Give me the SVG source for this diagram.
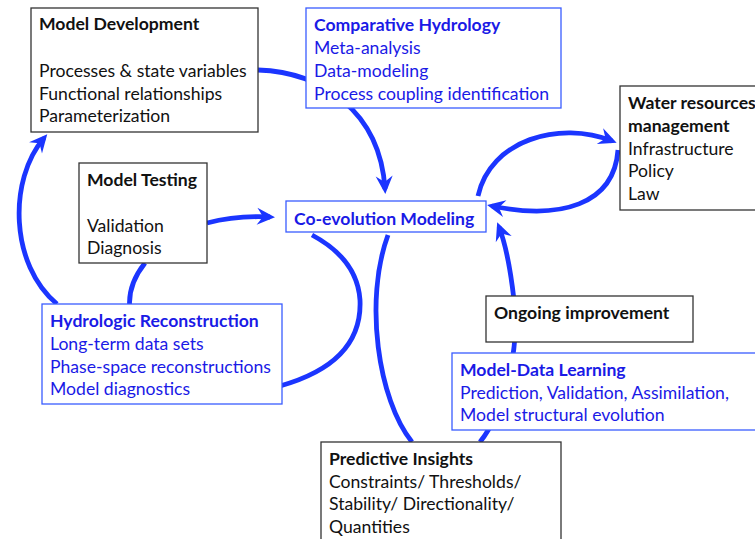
<svg xmlns="http://www.w3.org/2000/svg" width="755" height="539" viewBox="0 0 755 539">
<style>
text{font-family:Lato,"Liberation Sans",sans-serif;font-size:17.6px;fill:#111}
.b{font-weight:bold}
.blue{fill:#1a1ae6}
.kb{fill:#fff;stroke:#333;stroke-width:1.3}
.bb{fill:#fff;stroke:#3a5cff;stroke-width:1.3}
.c{fill:none;stroke:#1b35ff;stroke-width:4.8;stroke-linecap:butt}
</style>
<defs>
<marker id="ah" markerUnits="userSpaceOnUse" viewBox="-14 -9 19 18" refX="0" refY="0" markerWidth="19" markerHeight="18" orient="auto">
<path d="M5,0 L-13,-8.5 L-7,0 L-13,8.5 Z" fill="#1b35ff"/>
</marker>
</defs>
<rect width="755" height="539" fill="#fff"/>
<g id="connectors">
<path class="c" d="M258,70 C320,72 380,110 385,189" marker-end="url(#ah)"/>
<path class="c" d="M207,223 C230,217 250,216 270,217" marker-end="url(#ah)"/>
<path class="c" d="M57,304 C10,265 8,180 44,138" marker-end="url(#ah)"/>
<path class="c" d="M145,263 C133,278 128,295 130,310 M280,386 C330,372 362,345 360,300 C358,270 340,250 312,235"/>
<path class="c" d="M412,442 C378,400 364,300 388,235"/>
<path class="c" d="M480,442 C505,410 520,350 514,300 C510,265 506,245 499,227" marker-end="url(#ah)"/>
<path class="c" d="M478,196 C490,140 560,120 612,141" marker-end="url(#ah)"/>
<path class="c" d="M618,150 C614,205 560,220 492,206" marker-end="url(#ah)"/>
</g>
<g id="model-development">
<rect class="kb" x="31" y="8" width="227" height="124"/>
<text x="39" y="30" class="b">Model Development</text>
<text x="39" y="77">Processes &amp; state variables</text>
<text x="39" y="100">Functional relationships</text>
<text x="39" y="122">Parameterization</text>
</g>
<g id="comparative-hydrology">
<rect class="bb" x="306" y="8" width="255" height="100"/>
<text x="314" y="31" class="b blue">Comparative Hydrology</text>
<text x="314" y="54" class="blue">Meta-analysis</text>
<text x="314" y="77" class="blue">Data-modeling</text>
<text x="314" y="100" class="blue">Process coupling identification</text>
</g>
<g id="water-resources">
<rect class="kb" x="620" y="86" width="145" height="124"/>
<text x="628" y="109" class="b">Water resources</text>
<text x="628" y="132" class="b">management</text>
<text x="628" y="155">Infrastructure</text>
<text x="628" y="177">Policy</text>
<text x="628" y="200">Law</text>
</g>
<g id="model-testing">
<rect class="kb" x="79" y="163" width="128" height="100"/>
<text x="87" y="186" class="b">Model Testing</text>
<text x="87" y="232">Validation</text>
<text x="87" y="254">Diagnosis</text>
</g>
<g id="co-evolution-modeling">
<rect class="bb" x="286" y="201" width="200" height="31"/>
<text x="294" y="225" class="b blue">Co-evolution Modeling</text>
</g>
<g id="hydrologic-reconstruction">
<rect class="bb" x="42" y="304" width="240" height="100"/>
<text x="50" y="327" class="b blue">Hydrologic Reconstruction</text>
<text x="50" y="350" class="blue">Long-term data sets</text>
<text x="50" y="373" class="blue">Phase-space reconstructions</text>
<text x="50" y="395" class="blue">Model diagnostics</text>
</g>
<g id="ongoing-improvement">
<rect class="kb" x="486" y="296" width="207" height="46"/>
<text x="494" y="319" class="b">Ongoing improvement</text>
</g>
<g id="model-data-learning">
<rect class="bb" x="452" y="353" width="310" height="77"/>
<text x="460" y="376" class="b blue">Model-Data Learning</text>
<text x="460" y="399" class="blue">Prediction, Validation, Assimilation,</text>
<text x="460" y="421" class="blue">Model structural evolution</text>
</g>
<g id="predictive-insights">
<rect class="kb" x="321" y="442" width="240" height="110"/>
<text x="329" y="465" class="b">Predictive Insights</text>
<text x="329" y="488">Constraints/ Thresholds/</text>
<text x="329" y="510">Stability/ Directionality/</text>
<text x="329" y="533">Quantities</text>
</g>
</svg>
